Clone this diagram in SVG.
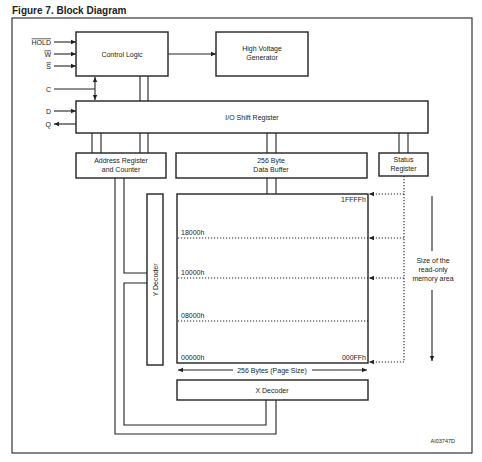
<svg xmlns="http://www.w3.org/2000/svg" width="482" height="462" viewBox="0 0 482 462">
<style>
text{font-family:"Liberation Sans",Arial,sans-serif;fill:#222}
.t{font-size:7px}
.c{text-anchor:middle}
.e{text-anchor:end}
.box{fill:#fff;stroke:#222;stroke-width:1.4}
.ln{fill:none;stroke:#222;stroke-width:1.1}
.dot{fill:none;stroke:#222;stroke-width:1.1;stroke-dasharray:1.2 1.8}
</style>
<defs>
<marker id="ah" markerWidth="6" markerHeight="6" refX="5" refY="3" orient="auto" markerUnits="userSpaceOnUse">
<path d="M0,0.8 L5,3 L0,5.2 Z" fill="#222"/>
</marker>
<marker id="as" markerWidth="6" markerHeight="6" refX="1" refY="3" orient="auto" markerUnits="userSpaceOnUse">
<path d="M6,0.8 L1,3 L6,5.2 Z" fill="#222"/>
</marker>
</defs>
<rect width="482" height="462" fill="#fff"/>
<text x="12" y="14" style="font-size:10px;font-weight:bold">Figure 7. Block Diagram</text>
<rect x="12" y="18" width="460" height="435" fill="none" stroke="#222" stroke-width="1.1"/>

<g id="connectors">
<path class="ln" d="M54,42 H76" marker-end="url(#ah)"/>
<path class="ln" d="M54,54 H76" marker-end="url(#ah)"/>
<path class="ln" d="M54,66 H76" marker-end="url(#ah)"/>
<path class="ln" d="M54,89 H95"/>
<path class="ln" d="M95,77 V100" marker-start="url(#as)" marker-end="url(#ah)"/>
<path class="ln" d="M54,111 H76" marker-end="url(#ah)"/>
<path class="ln" d="M76,124 H54" marker-end="url(#ah)"/>
<path class="ln" d="M168,54 H216" marker-end="url(#ah)"/>
<path class="ln" d="M140,76 V101 M148,76 V101"/>
<path class="ln" d="M92,133 V153 M101,133 V153"/>
<path class="ln" d="M140,133 V153 M148,133 V153"/>
<path class="ln" d="M267,133 V153 M276,133 V153"/>
<path class="ln" d="M399,133 V153 M408,133 V153"/>
<path class="ln" d="M267,178 V194 M276,178 V194"/>
<path class="ln" d="M115,178 V434 H276 V400"/>
<path class="ln" d="M124,178 V273 H147"/>
<path class="ln" d="M147,283 H124 V425 H266 V400"/>
<path class="ln" d="M233,370 H178" marker-end="url(#ah)"/>
<path class="ln" d="M312,370 H367" marker-end="url(#ah)"/>
<path class="dot" d="M404,176 V362"/>
<path class="dot" d="M404,194 H369" marker-end="url(#ah)"/>
<path class="dot" d="M404,238 H369" marker-end="url(#ah)"/>
<path class="dot" d="M404,278 H369" marker-end="url(#ah)"/>
<path class="dot" d="M404,362 H369" marker-end="url(#ah)"/>
<path class="dot" d="M178,238 H368 M178,278 H368 M178,321 H368"/>
<path class="ln" d="M432,196 V251"/>
<path class="ln" d="M432,290 V361" marker-end="url(#ah)"/>
</g>

<g id="labels">
<text class="t e" x="51" y="44.5" text-decoration="overline">HOLD</text>
<text class="t e" x="51" y="56.5" text-decoration="overline">W</text>
<text class="t e" x="51" y="68.5" text-decoration="overline">S</text>
<text class="t e" x="51" y="91.5">C</text>
<text class="t e" x="51" y="113.5">D</text>
<text class="t e" x="51" y="126.5">Q</text>
<text class="t c" x="433" y="263">Size of the</text>
<text class="t c" x="433" y="272">read-only</text>
<text class="t c" x="433" y="281">memory area</text>
<text class="t c" x="272" y="372.5">256 Bytes (Page Size)</text>
<text x="455" y="443" class="e" style="font-size:5.5px">AI03747D</text>
</g>

<g id="control-logic"><rect class="box" x="76" y="32" width="92" height="44"/><text class="t c" x="122" y="56.5">Control Logic</text></g>
<g id="hv-generator"><rect class="box" x="216" y="32" width="92" height="44"/><text class="t c" x="262" y="51">High Voltage</text><text class="t c" x="262" y="59.5">Generator</text></g>
<g id="io-shift-register"><rect class="box" x="76" y="101" width="352" height="32"/><text class="t c" x="252" y="120">I/O Shift Register</text></g>
<g id="address-register"><rect class="box" x="76" y="153" width="90" height="25"/><text class="t c" x="121" y="163">Address Register</text><text class="t c" x="121" y="172">and Counter</text></g>
<g id="data-buffer"><rect class="box" x="176" y="153" width="191" height="25"/><text class="t c" x="271" y="163">256 Byte</text><text class="t c" x="271" y="172">Data Buffer</text></g>
<g id="status-register"><rect class="box" x="379" y="153" width="49" height="23"/><text class="t c" x="403.5" y="162">Status</text><text class="t c" x="403.5" y="171">Register</text></g>
<g id="y-decoder"><rect class="box" x="147" y="194" width="16" height="171"/><text class="t c" transform="translate(157.5,280) rotate(-90)">Y Decoder</text></g>
<g id="memory-array"><rect x="177" y="194" width="191" height="169" fill="none" stroke="#222" stroke-width="1.4"/>
<text class="t e" x="366" y="202">1FFFFh</text>
<text class="t" x="181" y="235">18000h</text>
<text class="t" x="181" y="275">10000h</text>
<text class="t" x="181" y="318">08000h</text>
<text class="t" x="181" y="360">00000h</text>
<text class="t e" x="366" y="360">000FFh</text></g>
<g id="x-decoder"><rect class="box" x="177" y="380" width="191" height="20"/><text class="t c" x="272" y="392.5">X Decoder</text></g>
</svg>
